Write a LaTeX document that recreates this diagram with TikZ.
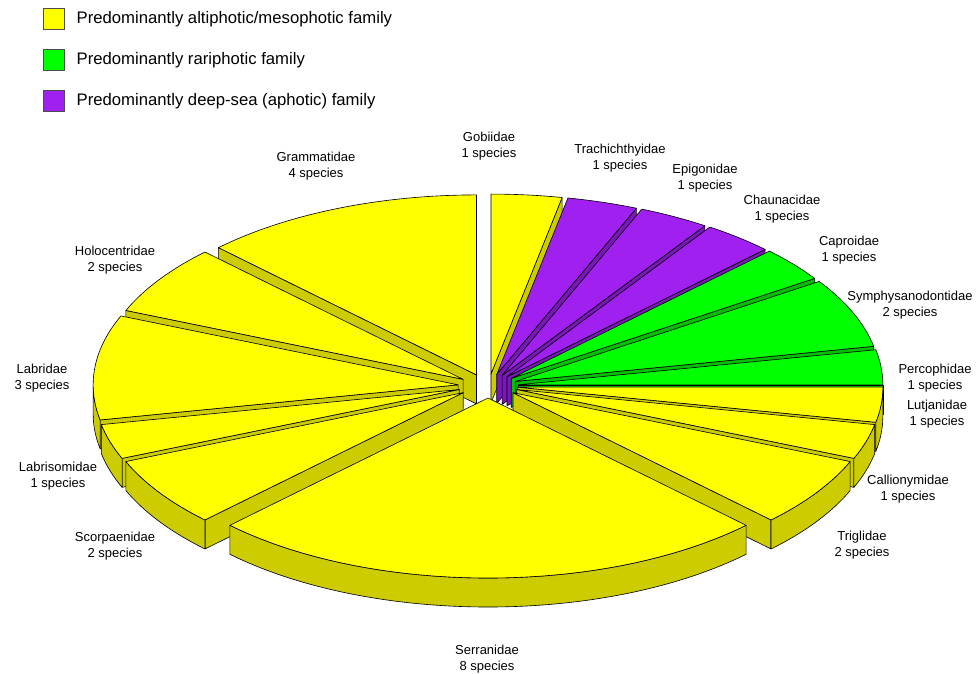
\documentclass[tikz,border=0pt]{standalone}
\usepackage{fontspec}
\setmainfont{Liberation Sans}
\usetikzlibrary{positioning}
\definecolor{altitop}{HTML}{FFFF00}
\definecolor{altiside}{HTML}{CCCC00}
\definecolor{raritop}{HTML}{00FF00}
\definecolor{rariside}{HTML}{00C000}
\definecolor{deeptop}{HTML}{A020F0}
\definecolor{deepside}{HTML}{7A16BA}
\tikzset{
slice/.style={draw=black, line width=0.35pt, line join=round}, % outline of every face
family/.style={font=\fontsize{7.4}{9.1}\selectfont, align=center, inner sep=0pt},
key/.style={draw=black!70, minimum size=0.42cm, inner sep=0pt},
keytext/.style={font=\fontsize{9.5}{11}\selectfont, inner sep=0pt},
}
% one exploded slice: start angle, end angle, top colour, side colour
\newcommand{\pieslice}[4]{%
  \pgfmathsetmacro{\midang}{(#1+#2)/2}
  \coordinate (apex) at ({488+30*cos(\midang)},{-386+12*sin(\midang)});
  \pgfmathtruncatemacro{\showstart}{cos(#1)>0.01}
  \pgfmathtruncatemacro{\showend}{cos(#2)<-0.01}
  \pgfmathsetmacro{\wallfrom}{max(#1,180)}
  \pgfmathsetmacro{\wallto}{min(#2,360)}
  \begin{scope}[shift={(apex)}]
    \ifnum\showstart=1
      \filldraw[slice, fill=#4] (0,0) -- (#1:365 and 180) -- ++(0,-29) -- (0,-29) -- cycle;
    \fi
    \ifnum\showend=1
      \filldraw[slice, fill=#4] (0,0) -- (#2:365 and 180) -- ++(0,-29) -- (0,-29) -- cycle;
    \fi
    \ifdim\wallfrom pt<\wallto pt
      \filldraw[slice, fill=#4] (\wallfrom:365 and 180)
        arc[start angle=\wallfrom, end angle=\wallto, x radius=365, y radius=180]
        -- ++(0,-29)
        arc[start angle=\wallto, end angle=\wallfrom, x radius=365, y radius=180] -- cycle;
    \fi
    \filldraw[slice, fill=#3] (0,0) -- (#1:365 and 180)
      arc[start angle=#1, end angle=#2, x radius=365, y radius=180] -- cycle;
  \end{scope}
}

\begin{document}
\begin{tikzpicture}[x=0.02cm, y=0.02cm]
\useasboundingbox (0,0) rectangle (977,-673);

% slices, back to front
\pieslice{78.75}{90}{altitop}{altiside}        % Gobiidae
\pieslice{67.5}{78.75}{deeptop}{deepside}      % Trachichthyidae
\pieslice{90}{135}{altitop}{altiside}          % Grammatidae
\pieslice{56.25}{67.5}{deeptop}{deepside}      % Epigonidae
\pieslice{45}{56.25}{deeptop}{deepside}        % Chaunacidae
\pieslice{33.75}{45}{raritop}{rariside}        % Caproidae
\pieslice{135}{157.5}{altitop}{altiside}       % Holocentridae
\pieslice{11.25}{33.75}{raritop}{rariside}     % Symphysanodontidae
\pieslice{157.5}{191.25}{altitop}{altiside}    % Labridae
\pieslice{0}{11.25}{raritop}{rariside}         % Percophidae
\pieslice{348.75}{360}{altitop}{altiside}      % Lutjanidae
\pieslice{191.25}{202.5}{altitop}{altiside}    % Labrisomidae
\pieslice{337.5}{348.75}{altitop}{altiside}    % Callionymidae
\pieslice{202.5}{225}{altitop}{altiside}       % Scorpaenidae
\pieslice{315}{337.5}{altitop}{altiside}       % Triglidae
\pieslice{225}{315}{altitop}{altiside}         % Serranidae

% labels
\node[family] (gobi)   at (489,-146) {Gobiidae\\1 species};
\node[family] (trachi) at (620,-158) {Trachichthyidae\\1 species};
\node[family] (epigo)  at (705,-178) {Epigonidae\\1 species};
\node[family] (chauna) at (782,-209) {Chaunacidae\\1 species};
\node[family] (capro)  at (849,-250) {Caproidae\\1 species};
\node[family] (symph)  at (910,-305) {Symphysanodontidae\\2 species};
\node[family] (perco)  at (935,-378) {Percophidae\\1 species};
\node[family] (lutja)  at (937,-414) {Lutjanidae\\1 species};
\node[family] (callio) at (908,-489) {Callionymidae\\1 species};
\node[family] (trigl)  at (862,-545) {Triglidae\\2 species};
\node[family] (serra)  at (487,-659) {Serranidae\\8 species};
\node[family] (scorp)  at (115,-546) {Scorpaenidae\\2 species};
\node[family] (labriso) at (58,-476) {Labrisomidae\\1 species};
\node[family] (labri)  at (42,-378) {Labridae\\3 species};
\node[family] (holo)   at (115,-260) {Holocentridae\\2 species};
\node[family] (gramm)  at (316,-166) {Grammatidae\\4 species};

% legend
\node[key, fill=altitop] (keyalti) at (53.5,-19) {};
\node[key, fill=raritop] (keyrari) at (53.5,-60) {};
\node[key, fill=deeptop] (keydeep) at (53.5,-101) {};
\node[keytext, right=0.24cm of keyalti] (txtalti) {Predominantly altiphotic/mesophotic family};
\node[keytext, right=0.24cm of keyrari] (txtrari) {Predominantly rariphotic family};
\node[keytext, right=0.24cm of keydeep] (txtdeep) {Predominantly deep-sea (aphotic) family};
\end{tikzpicture}
\end{document}
